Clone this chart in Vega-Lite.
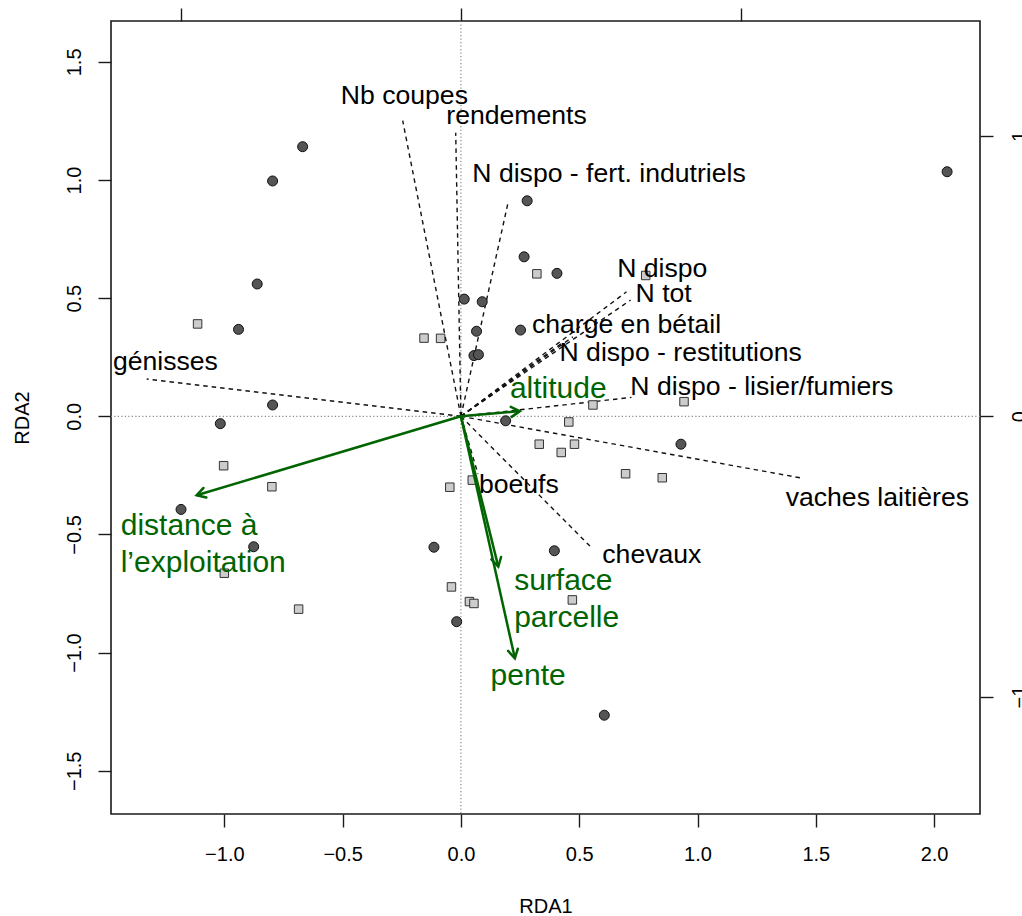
{
  "$schema": "https://vega.github.io/schema/vega-lite/v6.json",
  "width": 869,
  "height": 793,
  "autosize": {"type": "none"},
  "padding": {"left": 111, "top": 21, "right": 42, "bottom": 102},
  "background": "white",
  "config": {
    "font": "Liberation Sans",
    "view": {"stroke": "#1a1a1a", "strokeWidth": 1.6},
    "axis": {
      "grid": false,
      "domain": false,
      "tickColor": "#1a1a1a",
      "tickWidth": 1.4,
      "tickSize": 13,
      "labelFont": "Liberation Sans",
      "labelFontSize": 20,
      "labelColor": "#000000",
      "titleFont": "Liberation Sans",
      "titleFontSize": 20,
      "titleFontWeight": "normal",
      "titleColor": "#000000",
      "labelFlush": false,
      "labelOverlap": false,
      "labelBound": false
    }
  },
  "datasets": {
    "sites": [
      {"grp": "A", "RDA1": -0.669, "RDA2": 1.141},
      {"grp": "A", "RDA1": -0.796, "RDA2": 0.996},
      {"grp": "A", "RDA1": -0.861, "RDA2": 0.560},
      {"grp": "A", "RDA1": -0.940, "RDA2": 0.368},
      {"grp": "A", "RDA1": 0.014, "RDA2": 0.496},
      {"grp": "A", "RDA1": 0.090, "RDA2": 0.485},
      {"grp": "A", "RDA1": 0.066, "RDA2": 0.360},
      {"grp": "A", "RDA1": 0.055, "RDA2": 0.257},
      {"grp": "A", "RDA1": 0.074, "RDA2": 0.261},
      {"grp": "A", "RDA1": -0.796, "RDA2": 0.048},
      {"grp": "A", "RDA1": -1.017, "RDA2": -0.031},
      {"grp": "A", "RDA1": 0.189, "RDA2": -0.019},
      {"grp": "A", "RDA1": 2.055, "RDA2": 1.035},
      {"grp": "A", "RDA1": 0.280, "RDA2": 0.912},
      {"grp": "A", "RDA1": 0.267, "RDA2": 0.675},
      {"grp": "A", "RDA1": 0.406, "RDA2": 0.605},
      {"grp": "A", "RDA1": 0.252, "RDA2": 0.365},
      {"grp": "A", "RDA1": 0.930, "RDA2": -0.118},
      {"grp": "A", "RDA1": -1.183, "RDA2": -0.394},
      {"grp": "A", "RDA1": -0.876, "RDA2": -0.552},
      {"grp": "A", "RDA1": -0.114, "RDA2": -0.554},
      {"grp": "A", "RDA1": -0.018, "RDA2": -0.869},
      {"grp": "A", "RDA1": 0.395, "RDA2": -0.569},
      {"grp": "A", "RDA1": 0.606, "RDA2": -1.265},
      {"grp": "B", "RDA1": -1.113, "RDA2": 0.391},
      {"grp": "B", "RDA1": -0.156, "RDA2": 0.331},
      {"grp": "B", "RDA1": -0.086, "RDA2": 0.330},
      {"grp": "B", "RDA1": 0.321, "RDA2": 0.603},
      {"grp": "B", "RDA1": 0.781, "RDA2": 0.596},
      {"grp": "B", "RDA1": 0.558, "RDA2": 0.048},
      {"grp": "B", "RDA1": 0.943, "RDA2": 0.062},
      {"grp": "B", "RDA1": 0.456, "RDA2": -0.024},
      {"grp": "B", "RDA1": 0.331, "RDA2": -0.118},
      {"grp": "B", "RDA1": 0.480, "RDA2": -0.118},
      {"grp": "B", "RDA1": 0.424, "RDA2": -0.153},
      {"grp": "B", "RDA1": 0.696, "RDA2": -0.243},
      {"grp": "B", "RDA1": 0.851, "RDA2": -0.260},
      {"grp": "B", "RDA1": -1.003, "RDA2": -0.209},
      {"grp": "B", "RDA1": -0.799, "RDA2": -0.298},
      {"grp": "B", "RDA1": -1.000, "RDA2": -0.664},
      {"grp": "B", "RDA1": -0.686, "RDA2": -0.816},
      {"grp": "B", "RDA1": -0.047, "RDA2": -0.300},
      {"grp": "B", "RDA1": 0.048, "RDA2": -0.270},
      {"grp": "B", "RDA1": -0.040, "RDA2": -0.722},
      {"grp": "B", "RDA1": 0.036, "RDA2": -0.784},
      {"grp": "B", "RDA1": 0.055, "RDA2": -0.792},
      {"grp": "B", "RDA1": 0.471, "RDA2": -0.777}
    ],
    "species": [
      {"name": "Nb coupes", "ox": 0, "oy": 0, "RDA1": -0.246, "RDA2": 1.251, "labX": -0.239, "labY": 1.322},
      {"name": "rendements", "ox": 0, "oy": 0, "RDA1": -0.022, "RDA2": 1.200, "labX": 0.235, "labY": 1.237},
      {"name": "N dispo - fert. indutriels", "ox": 0, "oy": 0, "RDA1": 0.200, "RDA2": 0.908, "labX": 0.626, "labY": 0.993},
      {"name": "N dispo", "ox": 0, "oy": 0, "RDA1": 0.700, "RDA2": 0.527, "labX": 0.851, "labY": 0.591},
      {"name": "N tot", "ox": 0, "oy": 0, "RDA1": 0.717, "RDA2": 0.492, "labX": 0.857, "labY": 0.485},
      {"name": "charge en bétail", "ox": 0, "oy": 0, "RDA1": 0.473, "RDA2": 0.336, "labX": 0.700, "labY": 0.354},
      {"name": "N dispo - restitutions", "ox": 0, "oy": 0, "RDA1": 0.427, "RDA2": 0.310, "labX": 0.929, "labY": 0.234},
      {"name": "N dispo - lisier/fumiers", "ox": 0, "oy": 0, "RDA1": 0.721, "RDA2": 0.080, "labX": 1.272, "labY": 0.090},
      {"name": "génisses", "ox": 0, "oy": 0, "RDA1": -1.328, "RDA2": 0.158, "labX": -1.249, "labY": 0.196},
      {"name": "vaches laitières", "ox": 0, "oy": 0, "RDA1": 1.444, "RDA2": -0.262, "labX": 1.760, "labY": -0.380},
      {"name": "chevaux", "ox": 0, "oy": 0, "RDA1": 0.555, "RDA2": -0.559, "labX": 0.807, "labY": -0.620},
      {"name": "boeufs", "ox": 0, "oy": 0, "RDA1": 0.072, "RDA2": -0.244, "labX": 0.245, "labY": -0.323}
    ],
    "env": [
      {"name": "altitude", "label": ["altitude"], "ox": 0, "oy": 0, "RDA1": 0.249, "RDA2": 0.022, "labX": 0.207, "labY": 0.076},
      {"name": "distance à l’exploitation", "label": ["distance à", "l’exploitation"], "ox": 0, "oy": 0, "RDA1": -1.117, "RDA2": -0.334, "labX": -1.438, "labY": -0.502},
      {"name": "surface parcelle", "label": ["surface", "parcelle"], "ox": 0, "oy": 0, "RDA1": 0.158, "RDA2": -0.636, "labX": 0.225, "labY": -0.737},
      {"name": "pente", "label": ["pente"], "ox": 0, "oy": 0, "RDA1": 0.228, "RDA2": -1.024, "labX": 0.1255, "labY": -1.137}
    ],
    "zero": [{"z": 0}]
  },
  "layer": [
    {
      "layer": [
        {
          "data": {"name": "zero"},
          "mark": {"type": "rule", "color": "#8a8a8a", "strokeDash": [1.2, 2.3], "strokeWidth": 1.2},
          "encoding": {"y": {"field": "z", "type": "quantitative"}}
        },
        {
          "data": {"name": "zero"},
          "mark": {"type": "rule", "color": "#8a8a8a", "strokeDash": [1.2, 2.3], "strokeWidth": 1.2},
          "encoding": {"x": {"field": "z", "type": "quantitative"}}
        },
        {
          "data": {"name": "species"},
          "mark": {"type": "rule", "color": "#111111", "strokeDash": [4.5, 4], "strokeWidth": 1.4},
          "encoding": {
            "x": {"field": "ox", "type": "quantitative"},
            "y": {"field": "oy", "type": "quantitative"},
            "x2": {"field": "RDA1"},
            "y2": {"field": "RDA2"}
          }
        },
        {
          "data": {"name": "sites"},
          "transform": [{"filter": "datum.grp === 'A'"}],
          "mark": {"type": "point", "shape": "circle", "filled": true, "fill": "#555555", "stroke": "#111111", "strokeWidth": 1, "size": 100, "opacity": 1},
          "encoding": {
            "x": {
              "field": "RDA1", "type": "quantitative",
              "scale": {"domain": [-1.479, 2.194], "nice": false, "zero": false},
              "axis": {
                "orient": "bottom",
                "values": [-1, -0.5, 0, 0.5, 1, 1.5, 2],
                "format": ".1f",
                "title": "RDA1",
                "labelBaseline": "alphabetic",
                "labelPadding": 33.8,
                "titleBaseline": "alphabetic",
                "titleY": 98.4
              }
            },
            "y": {
              "field": "RDA2", "type": "quantitative",
              "scale": {"domain": [-1.683, 1.673], "nice": false, "zero": false},
              "axis": {
                "orient": "left",
                "values": [-1.5, -1, -0.5, 0, 0.5, 1, 1.5],
                "format": ".1f",
                "title": "RDA2",
                "labelAngle": 270,
                "labelAlign": "center",
                "labelBaseline": "alphabetic",
                "labelPadding": 17.7,
                "titleAngle": 270,
                "titleBaseline": "alphabetic",
                "titleX": -82.7
              }
            }
          }
        },
        {
          "data": {"name": "sites"},
          "transform": [{"filter": "datum.grp === 'B'"}],
          "mark": {"type": "point", "shape": "square", "filled": true, "fill": "#cccccc", "stroke": "#333333", "strokeWidth": 1, "size": 72, "opacity": 1},
          "encoding": {
            "x": {"field": "RDA1", "type": "quantitative"},
            "y": {"field": "RDA2", "type": "quantitative"}
          }
        },
        {
          "data": {"name": "species"},
          "mark": {"type": "text", "font": "Liberation Sans", "fontSize": 26.6, "color": "#000000", "align": "center", "baseline": "alphabetic"},
          "encoding": {
            "x": {"field": "labX", "type": "quantitative"},
            "y": {"field": "labY", "type": "quantitative"},
            "text": {"field": "name", "type": "nominal"}
          }
        },
        {
          "data": {"name": "env"},
          "mark": {"type": "rule", "color": "#006400", "strokeWidth": 2.5},
          "encoding": {
            "x": {"field": "ox", "type": "quantitative"},
            "y": {"field": "oy", "type": "quantitative"},
            "x2": {"field": "RDA1"},
            "y2": {"field": "RDA2"}
          }
        },
        {
          "data": {"name": "env"},
          "mark": {"type": "point", "filled": false, "stroke": "#006400", "strokeWidth": 2.5, "size": 400, "opacity": 1, "strokeCap": "round"},
          "encoding": {
            "x": {"field": "RDA1", "type": "quantitative"},
            "y": {"field": "RDA2", "type": "quantitative"},
            "shape": {
              "field": "name", "type": "nominal", "legend": null,
              "scale": {
                "domain": ["altitude", "distance à l’exploitation", "surface parcelle", "pente"],
                "range": [
                  "M -0.907 -0.42 L 0 0 L -0.818 0.576",
                  "M 0.973 0.231 L 0 0 L 0.686 -0.727",
                  "M 0.277 -0.961 L 0 0 L -0.694 -0.72",
                  "M 0.299 -0.954 L 0 0 L -0.677 -0.736"
                ]
              }
            }
          }
        },
        {
          "data": {"name": "env"},
          "mark": {"type": "text", "font": "Liberation Sans", "fontSize": 30, "color": "#006400", "align": "left", "baseline": "alphabetic", "lineHeight": 36.7},
          "encoding": {
            "x": {"field": "labX", "type": "quantitative"},
            "y": {"field": "labY", "type": "quantitative"},
            "text": {"field": "label", "type": "nominal"}
          }
        }
      ]
    },
    {
      "data": {"name": "zero"},
      "mark": {"type": "point", "opacity": 0},
      "encoding": {
        "x": {
          "field": "z", "type": "quantitative",
          "scale": {"domain": [-1.25, 1.855], "nice": false, "zero": false},
          "axis": {"orient": "top", "values": [-1, 0, 1], "labels": false, "title": null}
        },
        "y": {
          "field": "z", "type": "quantitative",
          "scale": {"domain": [-1.419, 1.41], "nice": false, "zero": false},
          "axis": {
            "orient": "right",
            "values": [-1, 0, 1],
            "format": "d",
            "title": null,
            "labelAngle": 270,
            "labelAlign": "center",
            "labelBaseline": "alphabetic",
            "labelPadding": 32.4
          }
        }
      }
    }
  ],
  "resolve": {"scale": {"x": "independent", "y": "independent"}}
}
